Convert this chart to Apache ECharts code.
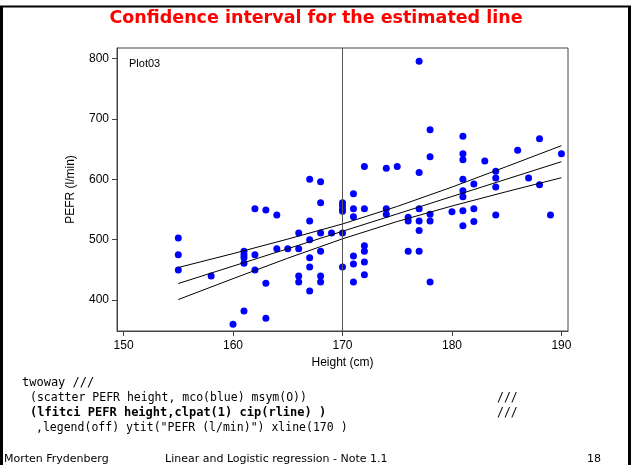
<!DOCTYPE html>
<html>
<head>
<meta charset="utf-8">
<script src="https://cdn.jsdelivr.net/npm/echarts@6/dist/echarts.min.js"></script>
<style>
  html, body { margin: 0; padding: 0; background: #fff; }
  #main { width: 632px; height: 465px; }
</style>
</head>
<body>
<div id="main"></div>
<script>
// heights (cm) and PEFR (l/min)
var heights = [
  155, 155, 155, 158, 160, 161, 161, 161, 161, 161,
  162, 162, 162, 163, 163, 163, 164, 164, 165,
  166, 166, 166, 166,
  167, 167, 167, 167, 167, 167,
  168, 168, 168, 168, 168, 168, 169,
  170, 170, 170, 170, 170, 170,
  171, 171, 171, 171, 171, 171,
  172, 172, 172, 172, 172, 172,
  174, 174, 174, 175, 176, 176, 176,
  177, 177, 177, 177, 177, 177,
  178, 178, 178, 178, 178, 180,
  181, 181, 181, 181, 181, 181, 181, 181,
  182, 182, 182, 183, 184, 184, 184, 184,
  186, 187, 188, 188, 189, 190
];
var pefr = [
  503, 475, 450, 440, 360, 382, 481, 475, 470, 461,
  551, 475, 450, 549, 428, 370, 541, 485, 485,
  511, 485, 440, 430,
  600, 531, 500, 470, 455, 415,
  596, 561, 511, 481, 440, 430, 511,
  561, 556, 550, 547, 511, 455,
  576, 551, 538, 473, 460, 430,
  621, 551, 490, 481, 463, 442,
  618, 551, 542, 621, 537, 531, 481,
  795, 611, 551, 531, 515, 481,
  682, 637, 542, 531, 430, 546,
  671, 642, 632, 600, 581, 571, 548, 523,
  592, 551, 530, 630, 613, 602, 587, 541,
  648, 602, 667, 591, 541, 642
];

// fitted line and its confidence limits
var fitHeights = [155, 160, 165, 170, 175, 180, 185, 190];
var fitLine = [427.5, 456.3, 485.1, 513.9, 542.6, 571.4, 600.2, 629];
var ciUpper = [454, 477, 501, 526, 555, 587, 621, 655.5];
var ciLower = [401, 435.6, 469.4, 501.4, 530.1, 555.7, 579.5, 602.5];

var xTicks = [150, 160, 170, 180, 190];
var yTicks = [400, 500, 600, 700, 800];
var refHeight = 170;

var codeLines = [
  'twoway ///',
  '(scatter PEFR height, mco(blue) msym(O))',
  '(lfitci PEFR height,clpat(1) cip(rline) )',
  ',legend(off) ytit("PEFR (l/min)") xline(170 )'
];

var myChart = echarts.init(document.getElementById('main'));

function pairs(xs, ys) {
  var out = [];
  for (var i = 0; i < xs.length; i++) {
    out.push([xs[i], ys[i]]);
  }
  return out;
}

var lineStyle = { color: '#000', width: 1 };
var comic = '"Comic Sans MS", "DejaVu Sans", sans-serif';
var mono = '"DejaVu Sans Mono", monospace';

var option = {
  animation: false,
  backgroundColor: '#fff',
  grid: {
    left: 117,
    right: 64,
    top: 48,
    bottom: 134,
    show: true,
    borderColor: '#444',
    borderWidth: 1
  },
  xAxis: {
    type: 'value',
    min: 149.4,
    max: 190.6,
    name: 'Height (cm)',
    nameLocation: 'middle',
    nameGap: 24,
    nameTextStyle: { fontFamily: 'Liberation Sans', fontSize: 12, color: '#000' },
    axisLine: { show: true, lineStyle: { color: '#444' } },
    axisTick: { show: true, length: 5, customValues: xTicks, lineStyle: { color: '#444' } },
    axisLabel: { customValues: xTicks, margin: 9, fontFamily: 'Liberation Sans', fontSize: 12, color: '#000' },
    splitLine: { show: false }
  },
  yAxis: {
    type: 'value',
    min: 349,
    max: 817,
    name: 'PEFR (l/min)',
    nameLocation: 'middle',
    nameGap: 40,
    nameTextStyle: { fontFamily: 'Liberation Sans', fontSize: 12, color: '#000' },
    axisLine: { show: true, lineStyle: { color: '#444' } },
    axisTick: { show: true, length: 5, customValues: yTicks, lineStyle: { color: '#444' } },
    axisLabel: { customValues: yTicks, margin: 8, fontFamily: 'Liberation Sans', fontSize: 12, color: '#000' },
    splitLine: { show: false }
  },
  series: [
    {
      type: 'scatter',
      data: pairs(heights, pefr),
      symbol: 'circle',
      symbolSize: 7,
      itemStyle: { color: '#0000ff', opacity: 1 },
      markLine: {
        silent: true,
        symbol: 'none',
        label: { show: false },
        lineStyle: { color: '#555', width: 1, type: 'solid' },
        data: [{ xAxis: refHeight }]
      }
    },
    {
      type: 'line',
      data: pairs(fitHeights, fitLine),
      showSymbol: false,
      lineStyle: lineStyle,
      z: 4
    },
    {
      type: 'line',
      data: pairs(fitHeights, ciUpper),
      showSymbol: false,
      lineStyle: lineStyle,
      z: 4
    },
    {
      type: 'line',
      data: pairs(fitHeights, ciLower),
      showSymbol: false,
      lineStyle: lineStyle,
      z: 4
    }
  ],
  graphic: [
    // slide frame
    { type: 'line', shape: { x1: 1.5, y1: 6, x2: 1.5, y2: 465 }, style: { stroke: '#000', lineWidth: 3 } },
    { type: 'line', shape: { x1: 629.5, y1: 6, x2: 629.5, y2: 465 }, style: { stroke: '#000', lineWidth: 3 } },
    { type: 'line', shape: { x1: 0, y1: 6.5, x2: 631, y2: 6.5 }, style: { stroke: '#000', lineWidth: 2 } },
    {
      type: 'text', left: 'center', top: 9,
      style: { text: 'Confidence interval for the estimated line', fill: '#ff0000', font: 'bold 17.5px ' + comic }
    },
    {
      type: 'text', left: 129, top: 58,
      style: { text: 'Plot03', fill: '#000', font: '11px "Liberation Sans", sans-serif' }
    },
    { type: 'text', left: 22, top: 377, style: { text: codeLines[0], fill: '#000', font: '12px ' + mono } },
    { type: 'text', left: 30, top: 392, style: { text: codeLines[1], fill: '#000', font: '11.5px ' + mono } },
    { type: 'text', left: 30, top: 407, style: { text: codeLines[2], fill: '#000', font: 'bold 12px ' + mono } },
    { type: 'text', left: 36, top: 422, style: { text: codeLines[3], fill: '#000', font: '11.5px ' + mono } },
    { type: 'text', left: 497, top: 392, style: { text: '///', fill: '#000', font: '11.5px ' + mono } },
    { type: 'text', left: 497, top: 407, style: { text: '///', fill: '#000', font: '11.5px ' + mono } },
    { type: 'text', left: 4, top: 454, style: { text: 'Morten Frydenberg', fill: '#000', font: '11px ' + comic } },
    { type: 'text', left: 165, top: 454, style: { text: 'Linear and Logistic regression - Note 1.1', fill: '#000', font: '11px ' + comic } },
    { type: 'text', left: 587, top: 454, style: { text: '18', fill: '#000', font: '11px ' + comic } }
  ]
};

myChart.setOption(option);
window.addEventListener('resize', function () {
  setTimeout(function () {
    myChart.resize();
  }, 0);
});
</script>
</body>
</html>
